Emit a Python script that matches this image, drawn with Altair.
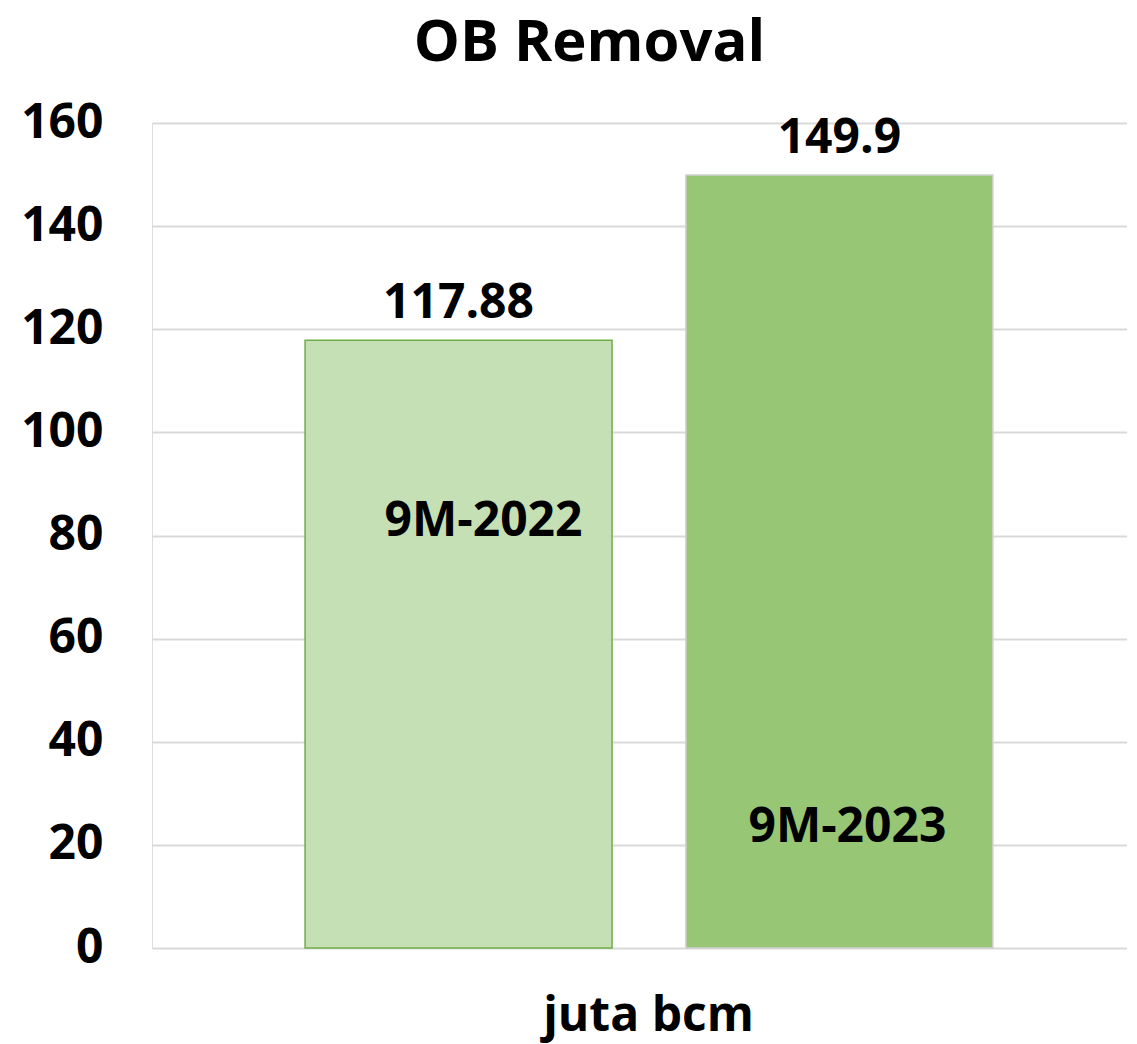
import altair as alt
import pandas as pd

categories = ["9M-2022", "9M-2023"]
values = [117.88, 149.9]
value_labels = ["117.88", "149.9"]
y_ticks = [0, 20, 40, 60, 80, 100, 120, 140, 160]

df = pd.DataFrame({"cat": categories, "val": values, "lbl": value_labels})

FONT = "Open Sans"

x_enc = alt.X(
    "cat:N",
    sort=categories,
    scale=alt.Scale(paddingInner=0.194, paddingOuter=0.377, align=0.533),
    axis=alt.Axis(
        labels=False, ticks=False, domain=False, grid=False,
        title="juta bcm", titleFont=FONT, titleFontSize=48, titleFontWeight="bold",
        titleColor="#000000", titlePadding=44, titleX=496, titleAlign="center",
    ),
)
y_enc = alt.Y(
    "val:Q",
    scale=alt.Scale(domain=[0, 160], nice=False),
    axis=alt.Axis(
        values=y_ticks, title=None, ticks=False, domain=False,
        labelFont=FONT, labelFontSize=48, labelFontWeight="bold", labelColor="#000000",
        labelPadding=49, gridColor="#d9d9d9", gridWidth=2,
    ),
)

color_scale = alt.Scale(domain=categories, range=["#c5e0b4", "#97c675"])
stroke_scale = alt.Scale(domain=categories, range=["#70ad47", "#d0d0d0"])

bars = alt.Chart(df).mark_bar(strokeWidth=1.5).encode(
    x=x_enc,
    y=y_enc,
    fill=alt.Fill("cat:N", scale=color_scale, legend=None),
    stroke=alt.Stroke("cat:N", scale=stroke_scale, legend=None),
)

vals = alt.Chart(df).mark_text(
    font=FONT, fontSize=48, fontWeight="bold", color="#000000",
    baseline="alphabetic", dy=-22,
).encode(x=alt.X("cat:N", sort=categories), y="val:Q", text="lbl:N")

lab1 = alt.Chart(df).transform_filter(alt.datum.cat == categories[0]).mark_text(
    font=FONT, fontSize=48, fontWeight="bold", color="#000000", dx=25,
).encode(x=alt.X("cat:N", sort=categories), y=alt.value(399), text="cat:N")

lab2 = alt.Chart(df).transform_filter(alt.datum.cat == categories[1]).mark_text(
    font=FONT, fontSize=48, fontWeight="bold", color="#000000", dx=8,
).encode(x=alt.X("cat:N", sort=categories), y=alt.value(705), text="cat:N")

chart = alt.layer(bars, vals, lab1, lab2).properties(
    width=975,
    height=825,
    title=alt.TitleParams(
        "OB Removal", font=FONT, fontSize=58, fontWeight="bold", color="#000000",
        anchor="middle", dx=-50, offset=26,
    ),
    autosize=alt.AutoSizeParams(type="none"),
    padding={"left": 144, "top": 115, "right": 0, "bottom": 96},
).configure_view(stroke=None).configure(background="#ffffff")

chart.save("out.html", embed_options={"renderer": "svg", "actions": False})
